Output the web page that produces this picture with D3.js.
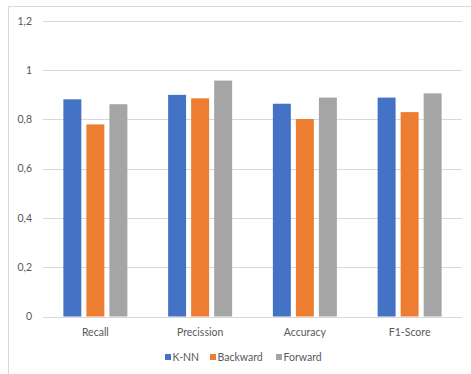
<!DOCTYPE html>
<html><head><meta charset="utf-8">
<script src="https://cdn.jsdelivr.net/npm/d3@7"></script>
<style>body{margin:0;background:#fff;}svg{display:block;font-family:Lato,"Open Sans",sans-serif;}</style>
</head><body>
<svg id="c" width="471" height="374"></svg>
<script>
const categories = ["Recall", "Precission", "Accuracy", "F1-Score"];
const seriesNames = ["K-NN", "Backward", "Forward"];
const knn = [0.882, 0.900, 0.864, 0.889];
const backward = [0.780, 0.886, 0.802, 0.830];
const forward = [0.862, 0.958, 0.889, 0.906];
const yTicks = [0, 0.2, 0.4, 0.6, 0.8, 1, 1.2];
const colors = ["#4472C4", "#ED7D31", "#A5A5A5"];

const series = [knn, backward, forward];
const svg = d3.select("#c");
const m = {left: 43, right: 462, top: 21, bottom: 316.5};

svg.append("path").attr("d", "M8.5,374 V6.5 H471").attr("fill", "none").attr("stroke", "#D9D9D9").attr("stroke-width", 1);

const x = d3.scaleBand().domain(categories).range([m.left, m.right]);
const y = d3.scaleLinear().domain([0, 1.2]).range([m.bottom, m.top]);

const fmt = d => d3.format("")(d).replace(".", ",");

svg.append("g").selectAll("line").data(yTicks).join("line")
  .attr("x1", m.left).attr("x2", m.right)
  .attr("y1", d => Math.round(y(d)) + 0.5).attr("y2", d => Math.round(y(d)) + 0.5)
  .attr("stroke", "#D9D9D9").attr("stroke-width", 1);

svg.append("g").selectAll("text").data(yTicks).join("text")
  .attr("x", 32).attr("y", d => y(d)).attr("dy", "0.35em")
  .attr("text-anchor", "end").attr("font-size", 10.5).attr("fill", "#595959")
  .text(fmt);

const inner = d3.scaleBand().domain(d3.range(3)).range([0, 64]).paddingInner(0.22);
const groupOffset = (x.bandwidth() - 64) / 2;

series.forEach((vals, si) => {
  svg.append("g").selectAll("rect").data(vals).join("rect")
    .attr("x", (d, i) => x(categories[i]) + groupOffset + inner(si))
    .attr("width", inner.bandwidth())
    .attr("y", d => y(d))
    .attr("height", d => y(0) - y(d))
    .attr("fill", colors[si]);
});

svg.append("g").selectAll("text").data(categories).join("text")
  .attr("x", d => x(d) + x.bandwidth() / 2).attr("y", 332).attr("dy", "0.35em")
  .attr("text-anchor", "middle").attr("font-size", 10.5).attr("fill", "#595959")
  .text(d => d);

const legendX = [165, 210, 276];
const lg = svg.append("g");
seriesNames.forEach((n, i) => {
  lg.append("rect").attr("x", legendX[i]).attr("y", 354).attr("width", 6).attr("height", 6).attr("fill", colors[i]);
  lg.append("text").attr("x", legendX[i] + 7.5).attr("y", 357).attr("dy", "0.35em")
    .attr("font-size", 10.5).attr("fill", "#595959").text(n);
});
</script>
</body></html>
